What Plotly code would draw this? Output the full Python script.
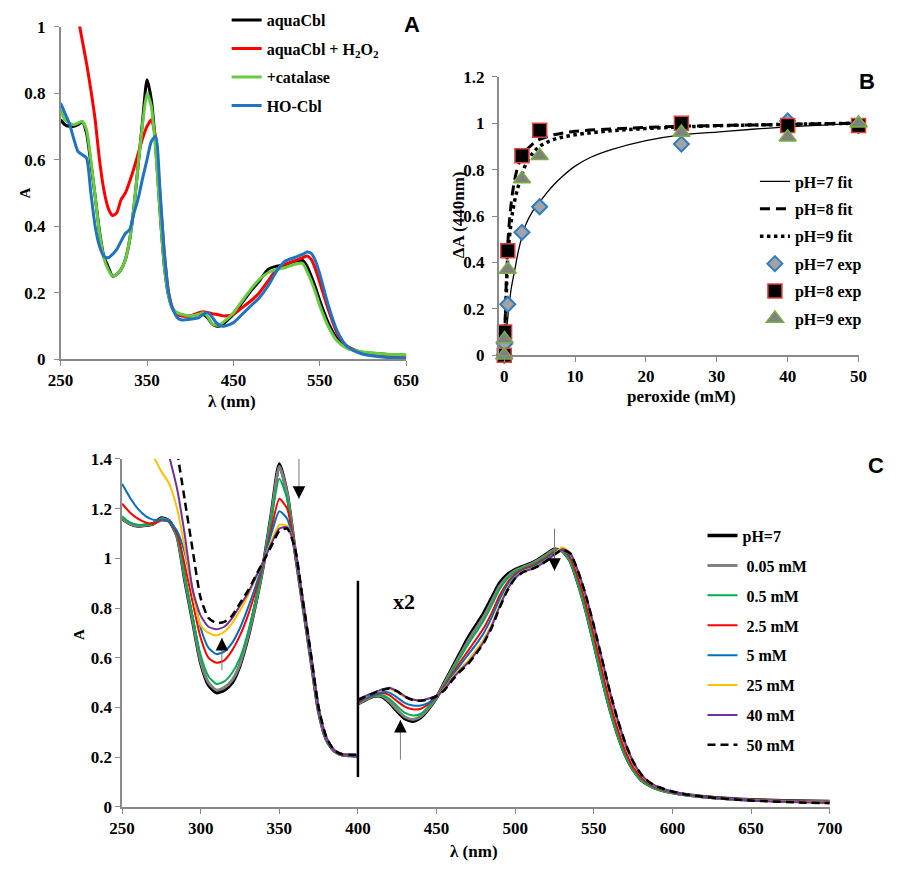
import plotly.graph_objects as go

# ---------------- Panel A data ----------------
wl_a = [250,255,260,265,270,275,280,285,290,295,300,305,310,315,320,325,330,335,340,345,
        350,355,360,365,370,375,380,385,390,400,410,415,420,425,430,435,440,450,460,470,
        480,490,500,510,520,530,535,540,545,550,560,570,580,590,600,625,650]
a_aquacbl = [.72,.705,.70,.70,.705,.714,.68,.59,.49,.385,.31,.278,.25,.255,.27,.30,.36,.46,.59,.72,
             .84,.78,.64,.445,.28,.19,.15,.137,.132,.13,.135,.135,.125,.107,.10,.10,.11,.135,.17,.205,
             .235,.27,.28,.284,.294,.297,.28,.25,.215,.175,.108,.062,.038,.026,.02,.015,.012]
a_h2o2 = [None,None,None,None,1.03,.96,.89,.81,.72,.60,.51,.455,.432,.44,.48,.50,.535,.575,.62,.665,
          .70,.72,.665,.49,.32,.20,.15,.135,.13,.13,.14,.143,.14,.137,.135,.132,.13,.135,.155,.175,
          .20,.235,.27,.285,.295,.305,.31,.30,.27,.23,.148,.078,.042,.028,.02,.012,.008]
a_catalase = [.75,.72,.71,.705,.71,.715,.69,.60,.49,.38,.305,.27,.25,.255,.27,.30,.36,.46,.59,.71,
              .80,.76,.63,.445,.28,.19,.15,.14,.135,.13,.135,.14,.128,.108,.102,.105,.115,.14,.175,.21,
              .24,.26,.27,.275,.285,.288,.265,.235,.20,.16,.097,.055,.035,.026,.022,.016,.013]
a_hocbl = [.77,.74,.71,.665,.625,.615,.605,.50,.40,.34,.31,.305,.315,.33,.355,.378,.39,.44,.485,.545,
           .60,.655,.67,.51,.32,.20,.15,.125,.118,.12,.125,.135,.14,.128,.11,.10,.10,.11,.135,.16,
           .185,.22,.265,.295,.305,.315,.322,.318,.295,.255,.16,.085,.042,.025,.015,.006,.003]

# ---------------- Panel B data ----------------
conc = [0, 0.05, 0.5, 2.5, 5, 25, 40, 50]
exp_ph7 = [0, 0.05, 0.22, 0.53, 0.64, 0.91, 1.01, 0.99]
exp_ph8 = [0, 0.10, 0.45, 0.86, 0.97, 1.00, 0.99, 0.99]
exp_ph9 = [0, 0.07, 0.37, 0.76, 0.86, 0.96, 0.94, 1.00]
fit7_x = [0, 0.3, 0.7, 1, 1.5, 2, 2.5, 3, 4, 5, 6, 7, 8, 10, 12, 15, 20, 25, 30, 35, 40, 45, 50]
fit7_y = [0, 0.10, 0.22, 0.29, 0.37, 0.45, 0.51, 0.56, 0.62, 0.66, 0.70, 0.735, 0.765, 0.815, 0.85,
          0.885, 0.925, 0.95, 0.962, 0.974, 0.984, 0.992, 1.0]
fit89_x = [0, 0.2, 0.5, 1, 1.5, 2, 2.5, 3, 4, 5, 7, 10, 15, 20, 25, 30, 40, 50]
fit8_y = [0, 0.22, 0.48, 0.66, 0.76, 0.82, 0.86, 0.88, 0.91, 0.93, 0.95, 0.965, 0.975, 0.982,
          0.987, 0.99, 0.995, 1.0]
fit9_y = [0, 0.17, 0.42, 0.58, 0.67, 0.73, 0.78, 0.82, 0.87, 0.90, 0.93, 0.95, 0.967, 0.977,
          0.984, 0.989, 0.995, 1.0]

# ---------------- Panel C data ----------------
wl_uv = [250,255,260,265,270,275,280,285,290,295,300,305,310,315,320,325,330,335,340,345,
         350,355,360,365,370,375,380,385,390,395,400]
wl_vis = [400,405,410,415,420,425,430,435,440,445,450,455,460,465,470,475,480,485,490,495,
          500,505,510,515,520,525,530,535,540,545,550,555,560,565,570,575,580,585,590,
          600,610,620,630,640,650,660,680,700]
c_labels = ["pH=7", " 0.05 mM", " 0.5 mM", " 2.5 mM", " 5 mM", " 25 mM", " 40 mM", " 50 mM"]

uv_ph7 = [1.16,1.14,1.13,1.133,1.14,1.163,1.15,1.09,0.91,0.745,0.58,0.49,0.46,0.47,0.50,0.57,0.68,0.82,0.98,1.18,
          1.38,1.26,1.03,0.815,0.60,0.385,0.27,0.225,0.21,0.207,0.205]
uv_005 = [1.16,1.14,1.13,1.133,1.14,1.16,1.15,1.09,0.915,0.75,0.585,0.50,0.47,0.48,0.51,0.575,0.685,0.82,0.98,1.175,
          1.37,1.26,1.03,0.815,0.60,0.385,0.27,0.225,0.21,0.207,0.205]
uv_05 = [1.17,1.145,1.135,1.135,1.14,1.158,1.148,1.09,0.92,0.76,0.61,0.525,0.495,0.505,0.54,0.60,0.70,0.83,0.98,1.16,
         1.32,1.24,1.03,0.815,0.60,0.385,0.27,0.225,0.21,0.207,0.205]
uv_25 = [1.22,1.185,1.16,1.145,1.14,1.152,1.148,1.10,0.97,0.82,0.68,0.60,0.58,0.59,0.63,0.69,0.77,0.87,0.985,1.12,
         1.24,1.20,1.03,0.815,0.60,0.387,0.27,0.225,0.21,0.207,0.205]
uv_5 = [1.30,1.245,1.20,1.17,1.155,1.155,1.15,1.11,1.02,0.87,0.72,0.64,0.615,0.625,0.66,0.72,0.80,0.89,0.99,1.10,
        1.19,1.16,1.03,0.815,0.60,0.39,0.272,0.226,0.21,0.207,0.205]
uv_25mm = [None,None,None,None,1.41,1.35,1.30,1.20,1.04,0.86,0.73,0.70,0.69,0.705,0.74,0.79,0.85,0.92,0.99,1.07,
           1.135,1.13,1.04,0.83,0.62,0.40,0.28,0.228,0.212,0.21,0.21]
uv_40 = [None,None,None,None,None,None,1.41,1.28,1.09,0.87,0.77,0.725,0.715,0.725,0.76,0.81,0.86,0.925,0.99,1.06,
         1.12,1.125,1.04,0.83,0.62,0.40,0.28,0.228,0.212,0.21,0.21]
uv_50 = [None,None,None,None,None,None,None,1.43,1.23,1.03,0.84,0.76,0.74,0.745,0.77,0.82,0.87,0.93,0.99,1.05,
         1.11,1.12,1.04,0.83,0.62,0.40,0.28,0.228,0.212,0.21,0.21]

vis_ph7 = [.415,.432,.445,.445,.42,.385,.355,.345,.36,.395,.44,.50,.56,.62,.68,.73,.78,.84,.90,.935,
           .955,.968,.98,.997,1.018,1.037,1.03,.99,.90,.79,.66,.525,.40,.295,.21,.15,.11,.088,.074,
           .058,.048,.041,.036,.032,.029,.027,.024,.022]
vis_005 = [.415,.433,.446,.447,.425,.39,.362,.352,.365,.398,.44,.497,.554,.61,.667,.717,.766,.826,.888,.926,
           .951,.965,.977,.994,1.015,1.035,1.03,.99,.90,.79,.66,.525,.40,.295,.21,.15,.11,.088,.073,
           .057,.047,.04,.035,.031,.028,.026,.023,.021]
vis_05 = [.42,.435,.447,.45,.435,.405,.378,.368,.375,.405,.442,.492,.547,.601,.654,.701,.75,.81,.875,.918,
          .946,.962,.974,.99,1.011,1.032,1.03,.99,.895,.785,.655,.52,.395,.29,.207,.148,.108,.086,.072,
          .056,.046,.039,.034,.03,.027,.025,.022,.02]
vis_25 = [.42,.438,.45,.458,.45,.425,.403,.393,.395,.415,.445,.485,.535,.583,.628,.673,.72,.78,.85,.902,
          .937,.956,.968,.984,1.004,1.026,1.035,1.003,.92,.815,.69,.555,.425,.315,.225,.16,.118,.093,.077,
          .059,.048,.041,.035,.031,.028,.026,.022,.02]
vis_5 = [.425,.44,.452,.462,.46,.44,.418,.408,.408,.42,.446,.48,.528,.571,.612,.653,.70,.762,.834,.892,
         .931,.952,.963,.979,.999,1.022,1.037,1.012,.94,.84,.72,.59,.46,.345,.25,.178,.128,.098,.08,
         .061,.049,.041,.035,.031,.027,.025,.021,.018]
vis_25mm = [.43,.445,.458,.47,.475,.462,.442,.43,.427,.435,.448,.475,.519,.556,.589,.631,.675,.734,.812,.879,
            .924,.948,.958,.973,.993,1.018,1.045,1.02,.945,.845,.725,.595,.465,.35,.255,.18,.13,.10,.082,
            .062,.049,.041,.035,.03,.027,.024,.02,.017]
vis_40 = [.435,.447,.46,.472,.48,.466,.445,.432,.428,.436,.448,.472,.515,.55,.58,.62,.665,.726,.805,.874,
          .921,.946,.956,.971,.991,1.016,1.037,1.022,.948,.85,.73,.60,.47,.355,.258,.183,.132,.101,.083,
          .062,.049,.041,.035,.03,.026,.023,.019,.016]
vis_50 = [.43,.445,.458,.47,.477,.465,.443,.43,.427,.433,.446,.47,.51,.545,.575,.615,.66,.72,.80,.87,
          .92,.945,.955,.97,.99,1.015,1.035,1.02,.948,.85,.73,.60,.47,.355,.258,.183,.132,.101,.083,
          .062,.049,.041,.035,.03,.026,.023,.018,.015]

# ---------------- styling ----------------
SERIF = "Liberation Serif, Times New Roman, serif"
SANS = "Liberation Sans, Arial, sans-serif"
AX = "#8a8a8a"
tickfont = dict(family=SERIF, size=17, color="black", weight="bold")

fig = go.Figure()

# Panel A traces
a_series = [("aquaCbl", a_aquacbl, "#000000"),
            ("aquaCbl + H<sub>2</sub>O<sub>2</sub>", a_h2o2, "#ff0000"),
            ("+catalase", a_catalase, "#66cc3f"),
            ("HO-Cbl", a_hocbl, "#1e73c3")]
for i, (name, ys, col) in enumerate(a_series):
    fig.add_trace(go.Scatter(x=wl_a, y=ys, mode="lines", name=name,
                             line=dict(color=col, width=3, shape="spline", smoothing=0.6),
                             xaxis="x", yaxis="y", legend="legend", legendgroup="a%d" % i,
                             connectgaps=False))

# Panel B traces
fig.add_trace(go.Scatter(x=fit7_x, y=fit7_y, mode="lines", name="pH=7 fit",
                         line=dict(color="black", width=1.3, shape="spline"),
                         xaxis="x2", yaxis="y2", legend="legend2", legendgroup="b0"))
fig.add_trace(go.Scatter(x=fit89_x, y=fit8_y, mode="lines", name="pH=8 fit",
                         line=dict(color="black", width=3, dash="10px,6px", shape="spline"),
                         xaxis="x2", yaxis="y2", legend="legend2", legendgroup="b1"))
fig.add_trace(go.Scatter(x=fit89_x, y=fit9_y, mode="lines", name="pH=9 fit",
                         line=dict(color="black", width=3.5, dash="dot", shape="spline"),
                         xaxis="x2", yaxis="y2", legend="legend2", legendgroup="b2"))
fig.add_trace(go.Scatter(x=conc, y=exp_ph7, mode="markers", name="pH=7 exp",
                         marker=dict(symbol="diamond", size=11.5, color="#a3a3a3",
                                     line=dict(color="#2e7cc4", width=2)),
                         cliponaxis=False, xaxis="x2", yaxis="y2", legend="legend2", legendgroup="b3"))
fig.add_trace(go.Scatter(x=conc, y=exp_ph8, mode="markers", name="pH=8 exp",
                         marker=dict(symbol="square", size=14, color="#000000",
                                     line=dict(color="#e0413e", width=1.5)),
                         cliponaxis=False, xaxis="x2", yaxis="y2", legend="legend2", legendgroup="b4"))
fig.add_trace(go.Scatter(x=conc, y=exp_ph9, mode="markers", name="pH=9 exp",
                         marker=dict(symbol="triangle-up", size=15, color="#808080",
                                     line=dict(color="#75b043", width=1.5)),
                         cliponaxis=False, xaxis="x2", yaxis="y2", legend="legend2", legendgroup="b5"))

# Panel C traces
c_uv = [uv_ph7, uv_005, uv_05, uv_25, uv_5, uv_25mm, uv_40, uv_50]
c_vis = [vis_ph7, vis_005, vis_05, vis_25, vis_5, vis_25mm, vis_40, vis_50]
c_cols = ["#000000", "#808080", "#00b050", "#ff0000", "#0070c0", "#ffc000", "#7030a0", "#000000"]
c_width = [3.5, 3, 2, 2, 2, 2, 2, 2.5]
for i in range(8):
    xs = wl_uv + [None] + wl_vis
    ys = c_uv[i] + [None] + c_vis[i]
    ln = dict(color=c_cols[i], width=c_width[i], shape="spline", smoothing=0.6)
    if i == 7:
        ln["dash"] = "8px,5px"
    fig.add_trace(go.Scatter(x=xs, y=ys, mode="lines", name=c_labels[i], line=ln,
                             xaxis="x3", yaxis="y3", legend="legend3", legendgroup="c%d" % i,
                             connectgaps=False))

axis_common = dict(showline=True, linecolor=AX, linewidth=1.5, ticks="outside", tickcolor=AX,
                   ticklen=5, tickwidth=1.2, showgrid=False, zeroline=False, tickfont=tickfont,
                   fixedrange=True)

H = 873.0
W = 900.0
def dy(top, bottom):
    return [(H - bottom) / H, (H - top) / H]

legfont = dict(family=SERIF, size=16, color="black", weight="bold")
fig.update_layout(
    width=900, height=873, margin=dict(l=0, r=0, t=0, b=0),
    plot_bgcolor="white", paper_bgcolor="white", showlegend=True,
    xaxis=dict(axis_common, domain=[49 / W, 405 / W], range=[250, 650], tickvals=[250, 350, 450, 550, 650], anchor="y"),
    yaxis=dict(axis_common, domain=dy(18, 358), range=[0, 1], dtick=0.2, anchor="x", ticklabelstandoff=5),
    xaxis2=dict(axis_common, domain=[500 / W, 870.7 / W], range=[-0.8, 50], tickvals=[0, 10, 20, 30, 40, 50], anchor="y2"),
    yaxis2=dict(axis_common, domain=dy(69.3, 354), range=[0, 1.2], dtick=0.2, anchor="x2", ticklabelstandoff=4),
    xaxis3=dict(axis_common, domain=[112.3 / W, 841 / W], range=[250, 700], dtick=50, anchor="y3"),
    yaxis3=dict(axis_common, domain=dy(460, 815.7), range=[0, 1.4], dtick=0.2, anchor="x3"),
    legend=dict(x=220 / W, y=(H + 6) / H, xanchor="left", yanchor="top", bgcolor="rgba(0,0,0,0)",
                font=legfont, traceorder="grouped", tracegroupgap=4.7),
    legend2=dict(x=764 / W, y=(H - 159) / H, xanchor="left", yanchor="top", bgcolor="rgba(0,0,0,0)",
                 font=legfont, traceorder="grouped", tracegroupgap=3.6),
    legend3=dict(x=710 / W, y=(H - 521) / H, xanchor="left", yanchor="top", bgcolor="rgba(0,0,0,0)",
                 font=legfont, traceorder="grouped", tracegroupgap=6.1),
)

annots = []
def txt(x, y, s, size=16, family=SERIF, angle=0):
    annots.append(dict(x=x / W, y=(H - y) / H, xref="paper", yref="paper", text=s, showarrow=False,
                       textangle=angle, xanchor="center", yanchor="middle",
                       font=dict(family=family, size=size, color="black", weight="bold")))

txt(225, 401, "λ (nm)", size=17)
txt(12, 188, "A", size=15, angle=-90)
txt(459, 210, "ΔA (440nm)", size=17, angle=-90)
txt(688, 396, "peroxide (mM)", size=17)
txt(68, 640, "A", size=15, angle=-90)
txt(475, 861, "λ (nm)", size=17)
txt(411, 16, "A", size=22, family=SANS)
txt(879, 74, "B", size=22, family=SANS)
txt(889, 467, "C", size=22, family=SANS)

# x2 label inside panel C
annots.append(dict(x=429.5, y=0.826, xref="x3", yref="y3", text="x2", showarrow=False,
                   font=dict(family=SERIF, size=22, color="black", weight="bold")))

# arrows in panel C: (x, tail_y, head_y)
arrows = [(313.5, 0.55, 0.68), (362.5, 1.42, 1.24), (427, 0.19, 0.35), (525, 1.12, 0.95)]
shapes = []
for (ax_, ty, hy) in arrows:
    shapes.append(dict(type="line", xref="x3", yref="y3", x0=ax_, x1=ax_, y0=ty, y1=hy,
                       line=dict(color="#777777", width=1)))
    step = 0.03 if hy > ty else -0.03
    annots.append(dict(x=ax_, y=hy, ax=ax_, ay=hy - step, xref="x3", yref="y3", axref="x3", ayref="y3",
                       text="", showarrow=True, arrowhead=2, arrowsize=1.8, arrowwidth=1.4,
                       arrowcolor="black"))

# vertical separator at 400 nm
shapes.append(dict(type="line", xref="x3", yref="y3", x0=400, x1=400, y0=0.12, y1=0.91,
                   line=dict(color="black", width=2.5)))

fig.update_layout(annotations=annots, shapes=shapes)
fig.write_html("out.html")
